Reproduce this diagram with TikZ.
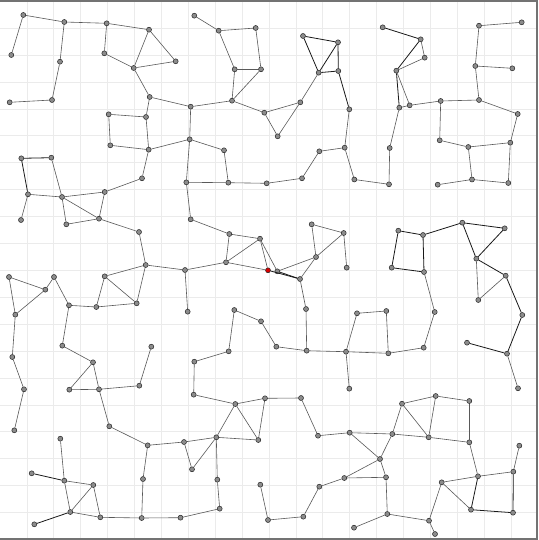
\documentclass[tikz,border=0pt]{standalone}
\begin{document}
\begin{tikzpicture}[x=1pt,y=-1pt,
  nd/.style={circle,inner sep=0pt,minimum size=5pt,fill={rgb,255:red,140;green,140;blue,140},draw=black!85,line width=0.5pt},
  rednd/.style={nd,fill=red!85!black},
  ed/.style={draw=black!65,line width=0.6pt},
  edk/.style={draw=black!90,line width=0.8pt},
  gridln/.style={draw=black!8,line width=0.8pt},
  frame/.style={draw=black!55,line width=1.6pt}]
\useasboundingbox (0,0) rectangle (538,540);
\fill[white] (0,0) rectangle (538,540);
\foreach \k in {1,...,19} {
  \draw[gridln] ({26.9*\k},0) -- ({26.9*\k},540);
  \draw[gridln] (0,{1.4+26.9*\k}) -- (538,{1.4+26.9*\k});
}
\draw[frame] (0,0.8) -- (537.2,0.8) -- (537.2,539.2) -- (0,539.2);
% nodes
\foreach \n/\x/\y in {
A1/23.3/15, A2/64.3/22, A3/106.7/23.3, A4/149/29.7, A5/11.3/55, A6/60/61.7, A7/104.3/53.3,
A8/133.7/68, A9/175.7/61.3, A10/9.7/102.3, A11/52/100, A12/149.7/97, A13/108.7/114.3,
A14/146/117, A15/110.3/145.3, A16/148.7/149.7, A17/21.3/158.3, A18/51.3/157.7, A19/142/178.3,
B1/194.3/15.7, B2/218.7/30.7, B3/255.7/28, B4/234.7/69.3, B5/261/69.3, B6/232/100.7,
B7/190.7/106.7, B8/264.3/112.7, B9/277.7/136.3, B10/300.3/102.3, B11/303/36, B12/338/42.3,
B13/318.7/72.7, B14/338.3/71, B15/349.3/109.3, B16/344.7/147.7, B17/319.3/151.3,
B18/189.7/139.3, B19/224/150.3, B20/302/178.3, B21/354.3/179.5,
C1/382.7/27.3, C2/420.7/39.3, C3/424.7/57.7, C4/396.3/70.7, C5/399.3/107.7, C6/409.7/105.3,
C7/440.7/101, C8/479/100, C9/517.7/114, C10/389.7/148, C11/439.7/140.3, C12/468.3/147,
C13/510.3/142.7, C14/479/25.7, C15/521.7/22.3, C16/475.3/66, C17/512.3/68.3, C18/472/179.5,
D1/28/194.3, D2/62/197, D3/104.7/192, D4/21/220, D5/66.3/224.3, D6/99/218.7, D7/139/232,
D8/145.7/265, D9/9/277, D10/54/277, D11/45.3/289.7, D12/15.3/314.7, D13/69/305.3,
D14/104.7/276.3, D15/96.3/307, D16/136.7/303.3, D17/12.3/357, D18/62.3/345.7, D19/151.3/346.7,
E1/186.3/182.3, E2/228.3/182.7, E3/266.7/183.3, E6/190.7/219.3, E7/229.3/234, E8/260/238.7,
E9/226/262.3, E10/185/270, E12/277.3/271.3, E13/300/279, E14/311.7/224.3,
E15/343.7/233, E16/316/257, E17/346.7/267.7, E18/187.7/311.7, E19/234.3/310, E20/261/321.3,
E21/306/309, E22/276.3/346.7, E23/306.7/350.7, E24/346/351.7, E25/357/313.3, E26/228.7/351.3,
F1/389/184.3, F2/437.7/184.7, F4/508.3/183, F5/398.3/230.7, F6/423/235, F7/462.3/222.7,
F8/504.7/228.3, F9/476.3/258.7, F10/391.7/267.7, F11/424/272, F12/505.7/275.7, F13/478.3/300,
F14/386.3/311, F15/434.7/312, F16/522.3/315, F17/467/342.7, F18/423.7/347.7, F19/388.3/353.3,
F20/507/353.7,
G1/24/389.3, G2/14.3/430.3, G3/93/362.3, G4/69.3/389.7, G5/99/389.3, G6/139.3/385.7,
G7/109.3/426.3, G8/147.7/445.3, G9/60.3/438.7, G10/31.7/473.3, G11/64.3/480.7, G12/93.3/485,
G13/70.3/512, G14/34.3/524.3, G15/100.3/517.3, G16/143/479, G17/141.7/518, G18/180.5/517.7,
H1/194.3/361.7, H2/193.7/394.7, H3/235.3/404, H4/265/398.3, H5/301/398, H6/318/435.7,
H7/349.7/432.7, H8/349.3/388.7, H9/184/442, H10/216.3/437.3, H11/258.3/440, H12/192/469.3,
H13/217.3/479.7, H14/219.7/508.7, H16/260.3/484.7, H17/268/520, H18/303.3/516.7,
H19/319.3/486.7, H20/344.3/478, H21/354/527.7,
I1/518/388.3, I2/402/403.7, I3/435.7/396, I4/469.3/401, I5/392.3/434, I6/428.7/437.3,
I7/469.3/442.3, I8/380/459, I9/386/477.3, I10/519.3/445.7, I11/513.3/471.7, I12/478/476.3,
I13/441.7/482.3, I14/471/509.7, I15/513/512.7, I16/387.3/514, I17/429/520.7, I18/435/534}
  \node[nd] (\n) at (\x,\y) {};
\node[rednd] (E11) at (268,270.3) {};
% regular edges
\foreach \a/\b in {
A1/A5, A1/A2, A2/A3, A3/A4, A2/A6, A6/A11, A11/A10, A3/A7, A7/A8, A4/A8, A4/A9, A8/A9,
A8/A12, A12/B7, A12/A14, A13/A14, A13/A15, A15/A16, A14/A16, A16/B18, A16/A19, A18/D2,
B1/B2, B2/B3, B2/B4, B3/B5, B4/B5, B4/B6, B5/B6, B6/B7, B6/B8, B8/B9, B8/B10, B9/B10,
B10/B13, B15/B16, B16/B17, B17/B20, B16/B21, B7/B18, B18/B19, B18/E1, B19/E2,
C2/C3, C3/C4, C4/C6, C5/C6, C6/C7, C7/C8, C8/C9, C7/C11, C11/C12, C12/C13, C9/C13,
C12/C18, C13/F4, C5/C10, C10/F1, C14/C15, C14/C16, C16/C17, C16/C8,
D1/D2, D1/D4, D2/D3, D2/D5, D2/D6, D5/D6, D3/D6, D3/A19, D6/D7, D7/D8, D8/D14, D8/D16,
D8/E10, D14/D15, D14/D16, D15/D16, D13/D15, D9/D11, D10/D11, D9/D12, D11/D12, D10/D13,
D13/D18, D12/D17, D18/G3, D19/G6,
E1/E2, E2/E3, E3/B20, E1/E6, E6/E7, E7/E8, E7/E9, E8/E9, E8/E11, E8/E12, E9/E11, E10/E9,
E12/E16, E16/E14, E16/E15, E16/E13, E14/E15, E15/E17, E13/E21, E21/E23, E10/E18,
E19/E20, E20/E22, E22/E23, E23/E24, E24/E25, E19/E26, E26/H1, E24/H8, E24/F19, B21/F1,
F2/C18, C18/F4, F13/F9, F12/F13, F11/F15, F15/F18, F18/F19, F14/F19, F14/E25, F20/I1,
G1/D17, G1/G2, G3/G4, G3/G5, G4/G5, G5/G6, G5/G7, G7/G8, G8/G16, G16/G17, G17/G18,
G15/G17, G9/G11, G11/G12, G11/G13, G12/G13, G12/G15, G13/G15, G8/H9,
H1/H2, H2/H3, H3/H4, H4/H5, H3/H10, H3/H11, H4/H11, H10/H11, H5/H6, H6/H7, H7/I5, H7/I8,
H9/H10, H9/H12, H10/H12, H10/H13, H13/H14, H14/G18, H16/H17, H17/H18, H18/H19, H19/H20,
H20/I8, H20/I9, H21/I16,
I2/I3, I2/I5, I2/I6, I3/I6, I3/I4, I4/I7, I6/I7, I5/I6, I5/I8, I8/I9, I9/I16, I16/I17,
I17/I18, I17/I13, I13/I12, I13/I14, I12/I11, I11/I10, I12/I7}
  \draw[ed] (\a) -- (\b);
% darker edges
\foreach \a/\b in {
B11/B12, B11/B13, B12/B13, B12/B14, B13/B14, B14/B15, A17/A18, A17/D1, C1/C2, C2/C4, C4/C5,
F5/F6, F5/F10, F10/F11, F6/F11, F6/F7, F7/F8, F7/F9, F8/F9, F9/F12, F12/F16, F16/F20,
F17/F20, G10/G11, G13/G14, I12/I14, I14/I15, I11/I15, E12/E13, E11/E13}
  \draw[edk] (\a) -- (\b);
\end{tikzpicture}
\end{document}
